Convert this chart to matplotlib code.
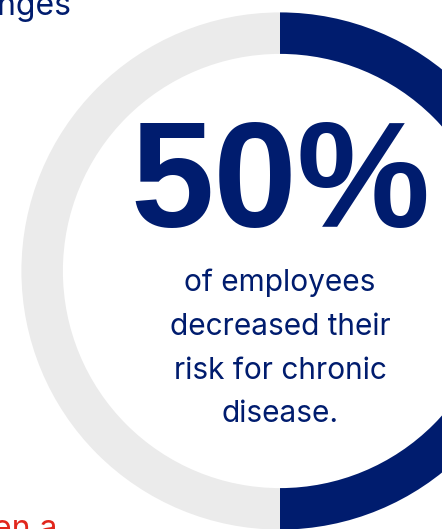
import matplotlib
matplotlib.use("Agg")
import matplotlib.pyplot as plt

# Share of employees who lowered their chronic-disease risk
shares = [50, 50]
share_colors = ["#001C6E", "#EBEBEB"]
headline = "50%"
caption_lines = ["of employees", "decreased their", "risk for chronic", "disease."]
top_fragment = "changes"
bottom_fragment = "when a"

W, H = 442, 529
NAVY = "#001C6E"
RED = "#E1261C"

fig = plt.figure(figsize=(W / 100, H / 100), dpi=100)
ax = fig.add_axes([0, 0, 1, 1])

cx, cy = 280, H - 271
outer_r, ring_w = 258.6, 41.5
ax.pie(shares, colors=share_colors, startangle=90, counterclock=False,
       radius=outer_r, center=(cx, cy),
       wedgeprops=dict(width=ring_w, linewidth=0))

ax.set_xlim(0, W)
ax.set_ylim(0, H)
ax.set_aspect("auto")
ax.axis("off")

ax.text(cx, H - 227, headline, ha="center", va="baseline",
        fontsize=108, fontweight="bold", color=NAVY, family="Liberation Sans")

body_font = "Inter"
baselines = [291, 335, 379, 422]
for line, by in zip(caption_lines, baselines):
    ax.text(cx, H - by, line, ha="center", va="baseline",
            fontsize=21.5, color=NAVY, family=body_font)

# neighbouring copy that runs in from the left of the page
ax.text(71, H - 15, top_fragment, ha="right", va="baseline",
        fontsize=23, color=NAVY, family=body_font)
ax.text(57, H - 538, bottom_fragment, ha="right", va="baseline",
        fontsize=23, color=RED, family=body_font)

fig.savefig("out.png", dpi=100)
